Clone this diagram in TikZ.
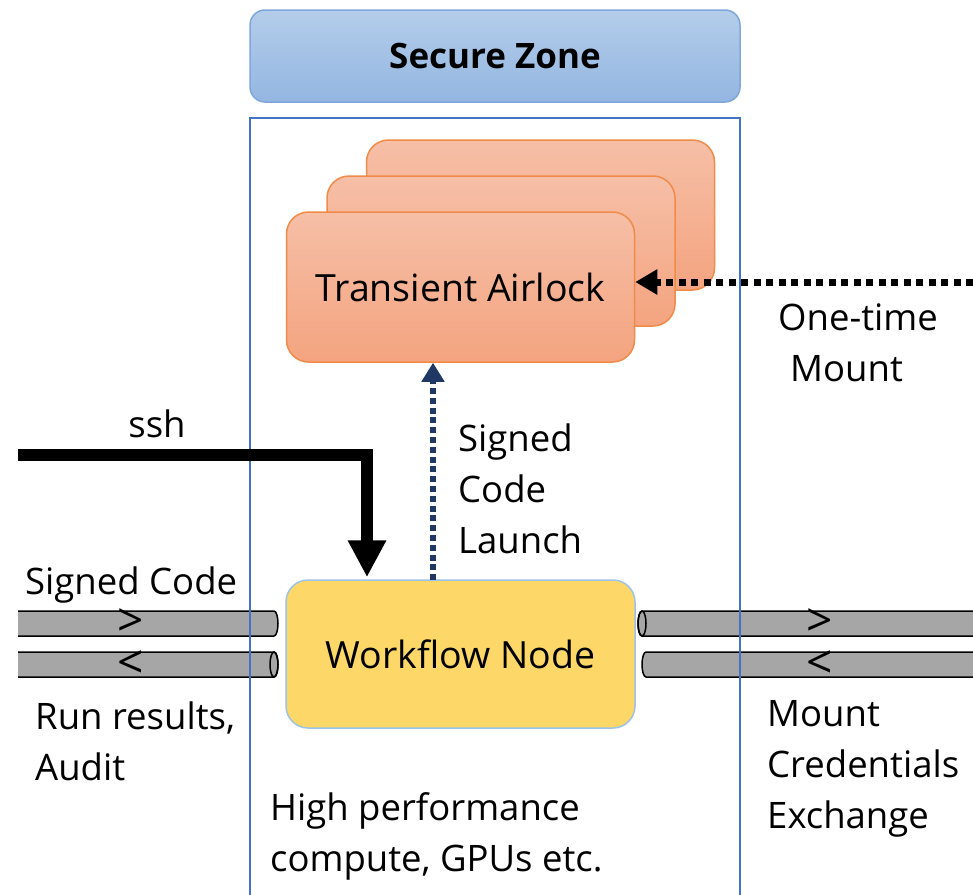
\documentclass[tikz,border=0pt]{standalone}
\usepackage{fontspec}
\setmainfont{Open Sans}
\usetikzlibrary{arrows.meta,calc}

\definecolor{zoneTop}{HTML}{B4CDEA}
\definecolor{zoneBot}{HTML}{93B6E1}
\definecolor{zoneEdge}{HTML}{7FA7DC}
\definecolor{boxEdge}{HTML}{4472C4}
\definecolor{airTop}{HTML}{F6BFA7}
\definecolor{airBot}{HTML}{F4A47F}
\definecolor{airEdge}{HTML}{F08B4A}
\definecolor{wfFill}{HTML}{FDD767}
\definecolor{wfEdge}{HTML}{9DC3E6}
\definecolor{pipeGray}{HTML}{A6A6A6}
\definecolor{navy}{HTML}{1F3864}

\tikzset{
  txt/.style={font=\fontsize{36.5}{51}\selectfont, inner sep=0pt, text=black},
  boxtxt/.style={font=\fontsize{37.5}{45}\selectfont, text=black},
  dirsign/.style={font=\fontsize{46}{50}\selectfont, inner sep=0pt, text=black},
  header/.style={rounded corners=15pt, top color=zoneTop, bottom color=zoneBot,
    draw=zoneEdge, line width=1.5pt, minimum width=490pt, minimum height=92pt,
    inner sep=0pt, font=\fontsize{35}{40}\selectfont\bfseries},
  airbox/.style={rounded corners=22pt, top color=airTop, bottom color=airBot,
    draw=airEdge, line width=1.5pt, minimum width=348pt, minimum height=150pt,
    inner sep=0pt},
  wfbox/.style={rounded corners=22pt, fill=wfFill, draw=wfEdge, line width=1.5pt,
    minimum width=349pt, minimum height=148pt, inner sep=0pt},
  pipe/.style={fill=pipeGray, draw=black, line width=1.5pt},
  pipeend/.style={draw=black, line width=1.5pt},
  sshline/.style={line width=12pt, -{Triangle[width=36pt,length=37pt]}},
  launchline/.style={navy, line width=6pt, dash pattern=on 6pt off 3.8pt,
    -{Triangle[width=22pt,length=19pt]}},
  mountline/.style={black, line width=7pt, dash pattern=on 7pt off 5.5pt,
    -{Triangle[width=24pt,length=22pt]}},
}

\begin{document}
\begin{tikzpicture}[x=1pt,y=-1pt]
\useasboundingbox (0,0) rectangle (973,894);

% zone title
\node[header] (zone) at (495,56) {Secure Zone};

% data pipes, left side (towards the workflow node)
\filldraw[pipe] (18,611) -- (274,611) arc[start angle=-90,end angle=90,x radius=4,y radius=12.5] -- (18,636);
\filldraw[pipe] (18,652) -- (274,652) arc[start angle=-90,end angle=90,x radius=4,y radius=12.5] -- (18,677);
\draw[pipeend] (274,664.5) ellipse[x radius=4,y radius=12.5];
% data pipes, right side
\filldraw[pipe] (973,611) -- (642,611) arc[start angle=-90,end angle=-270,x radius=4,y radius=12.5] -- (973,636);
\draw[pipeend] (642,623.5) ellipse[x radius=4,y radius=12.5];
\filldraw[pipe] (973,652) -- (646,652) arc[start angle=-90,end angle=-270,x radius=4,y radius=12.5] -- (973,677);

% secure zone frame
\draw[boxEdge, line width=1.5pt] (250,118) rectangle (740,910);

% stacked airlocks
\node[airbox] (air3) at (540.5,215) {};
\node[airbox] (air2) at (501,251) {};
\node[airbox, boxtxt] (air1) at (460.5,287) {Transient Airlock};

% workflow node
\node[wfbox, boxtxt] (wf) at (460.5,654) {Workflow Node};

% connectors
\coordinate (sshin) at (18,455);
\coordinate (mountin) at (973,282);
\draw[sshline] (sshin) -| ([xshift=-93.5pt,yshift=2pt]wf.north);
\draw[launchline] ([xshift=-27.5pt,yshift=-1pt]wf.north) -- ([xshift=-27.5pt]air1.south);
\draw[mountline] (mountin) -- ([yshift=5pt]air1.east);

% pipe direction signs
\node[dirsign] (dl1) at (131,623) {>};
\node[dirsign] (dl2) at (131,665) {<};
\node[dirsign] (dr1) at (820,623) {>};
\node[dirsign] (dr2) at (820,665) {<};

% labels (the base of a multi-line label is its last line)
\node[txt, anchor=base] (lssh) at (157,437) {ssh};
\node[txt, anchor=base west, align=left] (llaunch) at (458,553) {Signed\\Code\\Launch};
\node[txt, anchor=base west, align=left] (lonetime) at (778,381) {One-time\\\hspace*{12pt}Mount};
\node[txt, anchor=base west] (lsigned) at (25,594) {Signed Code};
\node[txt, anchor=base west, align=left] (lrun) at (35,780) {Run results,\\Audit};
\node[txt, anchor=base west, align=left] (lcred) at (767,828) {Mount\\Credentials\\Exchange};
\node[txt, anchor=base west, align=left] (lhpc) at (270,871) {High performance\\compute, GPUs etc.};
\end{tikzpicture}
\end{document}
